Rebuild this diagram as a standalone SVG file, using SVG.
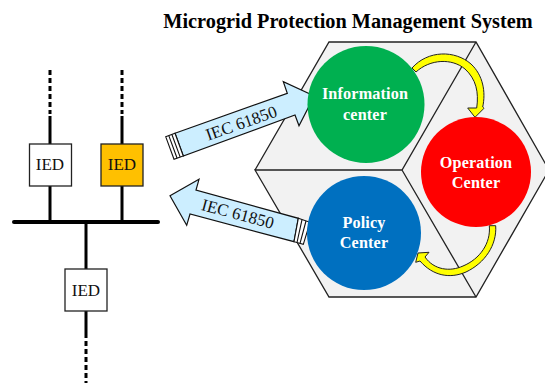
<svg xmlns="http://www.w3.org/2000/svg" width="545" height="383" viewBox="0 0 545 383">
<style>
text{font-family:"Liberation Serif","Times New Roman",serif}
.ied{stroke:#222;stroke-width:1.3}
.t{font-size:17px;fill:#111;text-anchor:middle}
.w{font-size:16.2px;font-weight:bold;fill:#fff;text-anchor:middle;letter-spacing:.15px}
.l{stroke:#000;stroke-width:3;fill:none}
.d{stroke:#000;stroke-width:3;fill:none;stroke-dasharray:5 3}
.hex{stroke:#222;stroke-width:1.3;fill:none}
.ar{fill:#cceeff;stroke:#111;stroke-width:1.2;stroke-linejoin:miter}
.st{fill:#fff;stroke:#111;stroke-width:1.1}
.y{fill:#ffff00;stroke:#222;stroke-width:1}
</style>
<text x="348" y="28" font-size="20.300" font-weight="bold" text-anchor="middle" fill="#000">Microgrid Protection Management System</text>
<g id="hexagon">
<polygon points="329,42 476,42 549,170 476,297 329,297 255,170" fill="#f2f2f2" stroke="none"/>
<path class="hex" d="M255,170L329,42H476L549,170L476,297H329L255,170H402L476,42M402,170L476,297"/>
</g>
<g id="connectors">
<path class="l" d="M50,116V144M50,186V222M122,116V144M122,186V222M86,222V269M86,311V338"/>
<path class="d" d="M50,70V114M122,70V114M86,341V383"/>
<path d="M14,222H158" stroke="#000" stroke-width="4" stroke-linecap="round"/>
<path class="y" d="M412,68C428,50 455,50 471,64C483,75 486,92 482.700,107L484,108.300L475,117.300L467.700,108L476.700,108C479,92 476,79 465,69C452,58 430,59 416,72Z"/>
<path class="y" d="M489.300,225.700H495.700C497,245 485,263 466,272C450,279 433,276 420,261L415.700,262.300L418,253L429,252.300L425,257C434,270 450,272 463,266C480,259 491,243 489.300,225.700Z"/>
<g id="arrow-out">
<polygon class="ar" points="175,133.300 287.300,93.300 283.300,81.700 314.300,96 299,125.700 295,115 183.300,156"/>
<path class="st" d="M165.700,136.700L175,133.300L183.300,156L174,159.300Z"/>
<path class="st" d="M168.800,135.600L177.100,158.200M171.900,134.500L180.200,157.100" style="fill:none"/>
<text class="t" transform="translate(243.200,128.500) rotate(-19.500)">IEC 61850</text>
</g>
<g id="arrow-in">
<polygon class="ar" points="170,195.700 199,179.300 196,190 298.300,218.300 294,241.700 190,214 186.700,225.300"/>
<path class="st" d="M298.300,218.300L310,222.300L303.300,244.300L294,241.700Z"/>
<path class="st" d="M302,219.600L297,242.500M306,221L300,243.400" style="fill:none"/>
<text class="t" transform="translate(236.300,219.300) rotate(15)">IEC 61850</text>
</g>
</g>
<g id="ied-1"><rect class="ied" x="29.500" y="144" width="42" height="42" fill="#fff"/><text class="t" x="50" y="170">IED</text></g>
<g id="ied-2"><rect class="ied" x="101" y="144" width="42" height="42" fill="#ffc000"/><text class="t" x="122" y="170">IED</text></g>
<g id="ied-3"><rect class="ied" x="65" y="269" width="42" height="42" fill="#fff"/><text class="t" x="86" y="296">IED</text></g>
<g id="information-center"><circle cx="366" cy="104.500" r="58.500" fill="#00b050"/><text class="w" x="365" y="99">Information</text><text class="w" x="365" y="119.500">center</text></g>
<g id="operation-center"><circle cx="476" cy="172" r="55" fill="#ff0000"/><text class="w" x="476" y="168">Operation</text><text class="w" x="476" y="188">Center</text></g>
<g id="policy-center"><circle cx="364" cy="233" r="57" fill="#0070c0"/><text class="w" x="364" y="227.500">Policy</text><text class="w" x="364" y="248">Center</text></g>
</svg>
